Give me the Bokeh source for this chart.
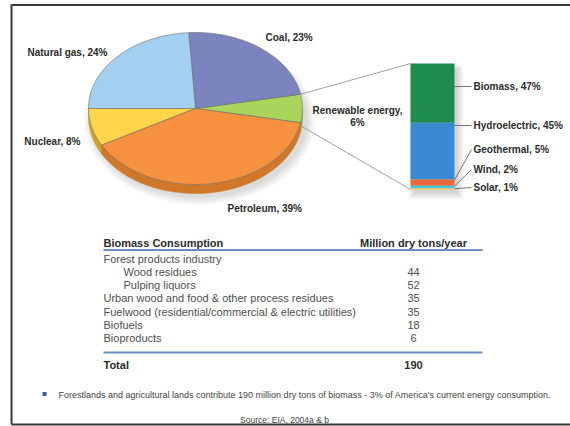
import numpy as np
from bokeh.plotting import figure
from bokeh.models import Range1d
from bokeh.core.properties import value
from bokeh.embed import file_html
from bokeh.resources import INLINE

# ---------------- data ----------------
energy_sources = ["Renewable energy", "Coal", "Natural gas", "Nuclear", "Petroleum"]
energy_shares = [6, 23, 24, 8, 39]
energy_colors = ["#A9D55C", "#7B84BE", "#A3CFF1", "#FFD54A", "#F6923F"]
energy_side_colors = ["#86AE3E", "#5C6398", "#7FA9CE", "#CDA02C", "#D07829"]

renew_sources = ["Biomass", "Hydroelectric", "Geothermal", "Wind", "Solar"]
renew_shares = [47, 45, 5, 2, 1]
renew_colors = ["#1F8B4C", "#3B88D3", "#E9683C", "#3FC6E6", "#F4C843"]

table_header = ["Biomass Consumption", "Million dry tons/year"]
table_items = ["Forest products industry", "Wood residues", "Pulping liquors",
               "Urban wood and food & other process residues",
               "Fuelwood (residential/commercial & electric utilities)",
               "Biofuels", "Bioproducts"]
table_values = [None, 44, 52, 35, 35, 18, 6]
table_indent = [0, 1, 1, 0, 0, 0, 0]
table_total = 190

note_text = ("Forestlands and agricultural lands contribute 190 million dry tons of biomass "
             "- 3% of America's current energy consumption.")
source_text = "Source: EIA, 2004a & b"

# ---------------- figure ----------------
W, H = 570, 426
p = figure(width=W, height=H, x_range=Range1d(0, W), y_range=Range1d(H, 0),
           x_axis_type=None, y_axis_type=None, toolbar_location=None,
           output_backend="svg", min_border=0)
p.grid.visible = False
p.outline_line_color = None
p.background_fill_color = "white"
p.border_fill_color = "white"

FONT = value("Liberation Sans")

# frame
p.line([11, 11], [4, 424], line_color="#3a3a3a", line_width=2)
p.line([11, 570], [4.5, 4.5], line_color="#3a3a3a", line_width=2)
p.line([11, 570], [424, 424], line_color="#3a3a3a", line_width=2)

# ---------------- pie ----------------
CX, CY, RX, RY, DEPTH = 195.0, 108.0, 107.0, 76.0, 9.0
start = -energy_shares[0] / 2 * 3.6
bounds = start + np.concatenate([[0], np.cumsum(energy_shares)]) * 3.6


def pt(theta, dy=0.0):
    t = np.radians(theta)
    return CX + RX * np.cos(t), CY - RY * np.sin(t) + dy


# soft shadow
for i in range(6):
    p.ellipse(x=CX + 4, y=CY + DEPTH + 3, width=2 * RX + 2 + 3 * i, height=2 * RY + 2 + 3 * i,
              fill_color="black", fill_alpha=0.022, line_color=None)

# sides (visible lower half)
side_xs, side_ys, side_cols = [], [], []
for i in range(len(energy_shares)):
    a0, a1 = bounds[i], bounds[i + 1]
    for lo_lim, hi_lim in [(-180, 0), (180, 360)]:
        lo, hi = max(a0, lo_lim), min(a1, hi_lim)
        if hi > lo:
            th = np.linspace(lo, hi, 60)
            x0, y0 = pt(th)
            x1, y1 = pt(th[::-1], DEPTH)
            side_xs.append(list(x0) + list(x1))
            side_ys.append(list(y0) + list(y1))
            side_cols.append(energy_side_colors[i])
p.patches(side_xs, side_ys, fill_color=side_cols, line_color=side_cols, line_width=0.5)

# top faces
top_xs, top_ys = [], []
for i in range(len(energy_shares)):
    th = np.linspace(bounds[i], bounds[i + 1], 80)
    x, y = pt(th)
    top_xs.append([CX] + list(x))
    top_ys.append([CY] + list(y))
p.patches(top_xs, top_ys, fill_color=energy_colors, line_color="#6b6b6b", line_width=0.6)

# pie labels
lab_style = dict(text_font=FONT, text_font_size="10px", text_font_style="bold",
                 text_color="#2b2b2b", text_baseline="middle")
pie_label_pos = {"Coal": (265, 37, "left"), "Natural gas": (107, 52, "right"),
                 "Nuclear": (80, 141, "right"), "Petroleum": (227, 208, "left")}
for name, v in zip(energy_sources, energy_shares):
    if name in pie_label_pos:
        x, y, al = pie_label_pos[name]
        p.text(x=[x], y=[y], text=[f"{name}, {v}%"], text_align=al, **lab_style)
p.text(x=[357], y=[110], text=[f"{energy_sources[0]},"], text_align="center", **lab_style)
p.text(x=[357], y=[122], text=[f"{energy_shares[0]}%"], text_align="center", **lab_style)

# ---------------- renewable bar ----------------
BX0, BX1, BY0, BH = 410.0, 454.0, 63.0, 126.0
cum = np.concatenate([[0], np.cumsum(renew_shares)]) / sum(renew_shares)
seg_top = BY0 + cum[:-1] * BH
seg_bot = BY0 + cum[1:] * BH

# connector lines
ux, uy = pt(bounds[1])
lx, ly = pt(bounds[0], 3)
p.line([ux, BX0], [uy, BY0], line_color="#8a8a8a", line_width=0.8)
p.line([lx, BX0], [ly, BY0 + BH], line_color="#8a8a8a", line_width=0.8)

# bar shadow (soft, offset right/down)
for i in range(7):
    p.quad(left=BX0 + 4 - i, right=BX1 + 3 + i, top=BY0 + 5 - i * 0.5, bottom=BY0 + BH + 4 + i,
           fill_color="black", fill_alpha=0.022, line_color=None)
p.quad(left=BX0, right=BX1, top=seg_top, bottom=seg_bot, fill_color=renew_colors,
       line_color=None)

label_y = [86, 125, 149, 169, 187]
for i, (name, v) in enumerate(zip(renew_sources, renew_shares)):
    ys = float(np.clip(label_y[i], seg_top[i] + 0.5, seg_bot[i] - 0.5))
    p.line([BX1, 471], [ys, label_y[i]], line_color="#555555", line_width=0.8)
    p.text(x=[473], y=[label_y[i]], text=[f"{name}, {v}%"], text_align="left", **lab_style)

# ---------------- table ----------------
TX, TIND, VX, TR = 103.0, 20.0, 413.0, 482.0
hdr = dict(text_font=FONT, text_font_size="11px", text_font_style="bold",
           text_color="#2b2b2b", text_baseline="middle")
row = dict(text_font=FONT, text_font_size="11px", text_color="#505050",
           text_baseline="middle")
p.text(x=[TX], y=[242], text=[table_header[0]], text_align="left", **hdr)
p.text(x=[VX], y=[242], text=[table_header[1]], text_align="center", **hdr)
p.line([TX, TR], [249.5, 249.5], line_color="#6F8DC0", line_width=2)
row_y0, row_dy = 258.0, 13.3
for i, (item, val, ind) in enumerate(zip(table_items, table_values, table_indent)):
    y = row_y0 + i * row_dy
    p.text(x=[TX + ind * TIND], y=[y], text=[item], text_align="left", **row)
    if val is not None:
        p.text(x=[VX], y=[y], text=[str(val)], text_align="center", **row)
p.line([TX, TR], [352, 352], line_color="#6F8DC0", line_width=2)
p.text(x=[TX], y=[364], text=["Total"], text_align="left", **hdr)
p.text(x=[VX], y=[364], text=[str(table_total)], text_align="center", **hdr)

# ---------------- notes ----------------
p.scatter(x=[44], y=[393.5], marker="square", size=4, fill_color="#3A5BA8", line_color=None)
p.text(x=[58], y=[394], text=[note_text], text_align="left", text_baseline="middle",
       text_font=FONT, text_font_size="9px", text_color="#444444")
p.text(x=[284], y=[419.5], text=[source_text], text_align="center", text_baseline="middle",
       text_font=FONT, text_font_size="8.5px", text_color="#444444")

open("out.html", "w").write(file_html(p, INLINE))
